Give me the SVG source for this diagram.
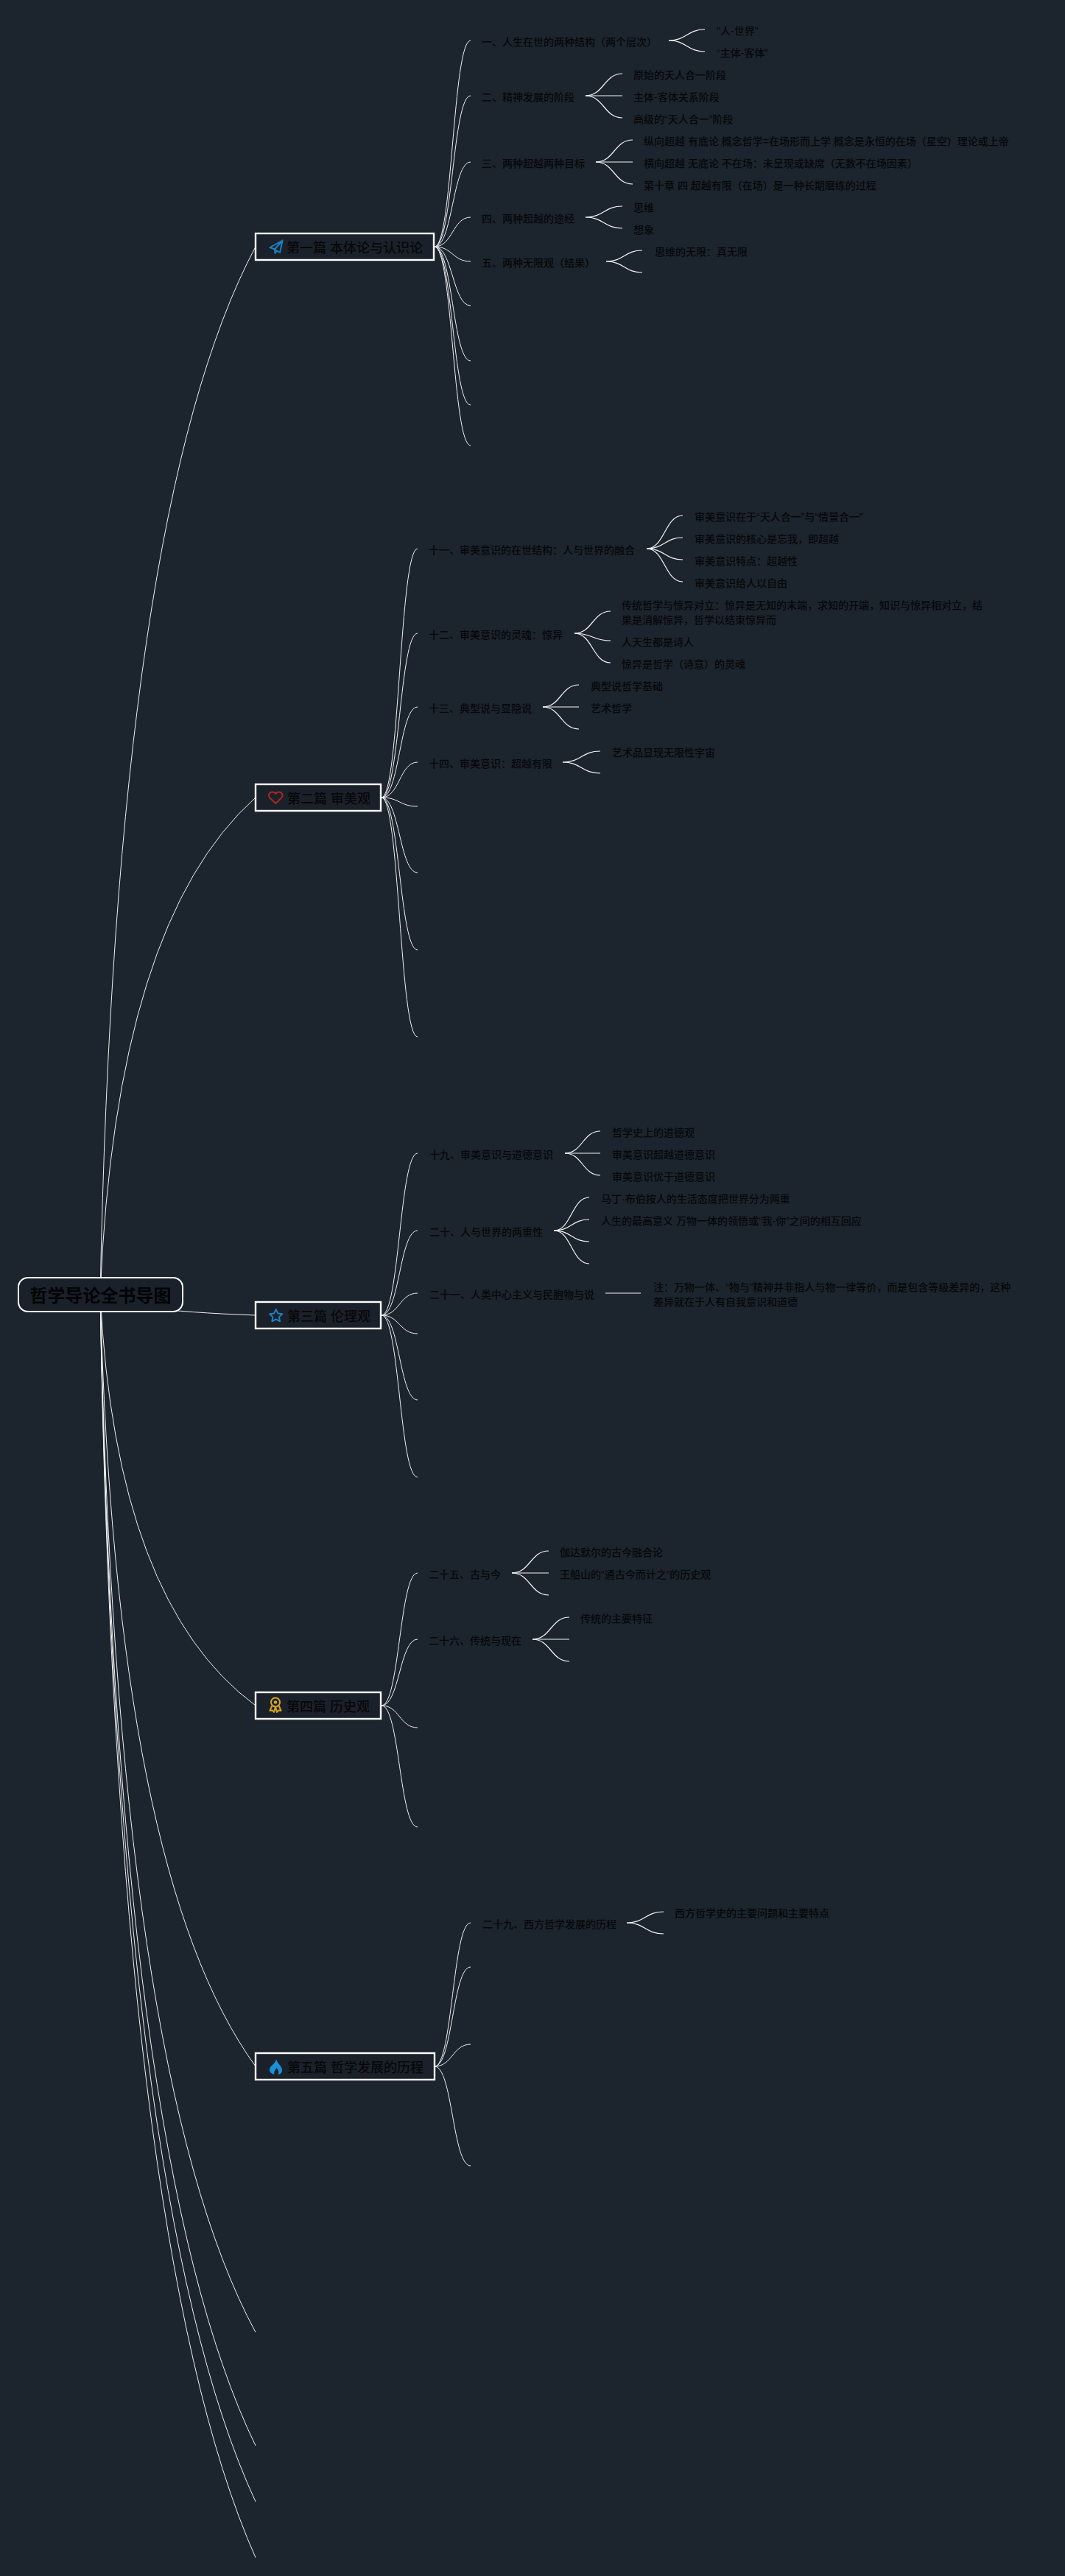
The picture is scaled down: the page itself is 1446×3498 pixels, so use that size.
<svg xmlns="http://www.w3.org/2000/svg" width="1446" height="3498" viewBox="0 0 1446 3498">
<style>
.l0{fill:none;stroke:#f0f1f2;stroke-width:1}
.l1{fill:none;stroke:#f0f1f2;stroke-width:1}
.l2{fill:none;stroke:#f4f5f6;stroke-width:1.2}
text{font-family:"Liberation Sans","Noto Sans CJK SC",sans-serif;fill:#07080a;font-weight:500}
.root rect{fill:#1a212a;stroke:#fff;stroke-width:2}
.root text{font-size:24px;font-weight:700;fill:#030405;text-anchor:middle}
.main rect{fill:#1a212a;stroke:#fff;stroke-width:2.4}
.main text{font-size:18px}
.t text{font-size:14px}
.ico{fill:none;stroke-width:2;stroke-linejoin:round;stroke-linecap:round}
</style>
<rect width="1446" height="3498" fill="#1c242d"/>
<g id="connectors">
<g id="root-edges">
<path class="l0" d="M136 1758Q157 691 347 335"/>
<path class="l0" d="M136 1758Q157 1252 347 1083"/>
<path class="l0" d="M136 1758Q157 1779 347 1786"/>
<path class="l0" d="M136 1758Q157 2176 347 2316"/>
<path class="l0" d="M136 1758Q157 2544 347 2806"/>
<path class="l0" d="M136 1758Q157 2815 347 3167"/>
<path class="l0" d="M136 1758Q157 2930 347 3321"/>
<path class="l0" d="M136 1758Q157 2988 347 3397"/>
<path class="l0" d="M136 1758Q157 3045 347 3473"/>
</g>
<g id="edges-1">
<path class="l1" d="M590 335C614.500 335 614.500 55 639 55"/>
<path class="l1" d="M590 335C614.500 335 614.500 130 639 130"/>
<path class="l1" d="M590 335C614.500 335 614.500 220 639 220"/>
<path class="l1" d="M590 335C614.500 335 614.500 295 639 295"/>
<path class="l1" d="M590 335C614.500 335 614.500 355 639 355"/>
<path class="l1" d="M590 335C614.500 335 614.500 415 639 415"/>
<path class="l1" d="M590 335C614.500 335 614.500 490 639 490"/>
<path class="l1" d="M590 335C614.500 335 614.500 550 639 550"/>
<path class="l1" d="M590 335C614.500 335 614.500 605 639 605"/>
<path class="l2" d="M908 55C932.500 55 932.500 40 957 40"/>
<path class="l2" d="M908 55C932.500 55 932.500 70 957 70"/>
<path class="l2" d="M795 130C820 130 820 100 845 100"/>
<path class="l2" d="M795 130H845"/>
<path class="l2" d="M795 130C820 130 820 160 845 160"/>
<path class="l2" d="M809 220C834 220 834 190 859 190"/>
<path class="l2" d="M809 220H859"/>
<path class="l2" d="M809 220C834 220 834 250 859 250"/>
<path class="l2" d="M795 295C820 295 820 280 845 280"/>
<path class="l2" d="M795 295C820 295 820 310 845 310"/>
<path class="l2" d="M823 355C847.500 355 847.500 340 872 340"/>
<path class="l2" d="M823 355C847.500 355 847.500 370 872 370"/>
</g>
<g id="edges-2">
<path class="l1" d="M518 1083C542.500 1083 542.500 745 567 745"/>
<path class="l1" d="M518 1083C542.500 1083 542.500 860 567 860"/>
<path class="l1" d="M518 1083C542.500 1083 542.500 960 567 960"/>
<path class="l1" d="M518 1083C542.500 1083 542.500 1035 567 1035"/>
<path class="l1" d="M518 1083C542.500 1083 542.500 1095 567 1095"/>
<path class="l1" d="M518 1083C542.500 1083 542.500 1185 567 1185"/>
<path class="l1" d="M518 1083C542.500 1083 542.500 1290 567 1290"/>
<path class="l1" d="M518 1083C542.500 1083 542.500 1408 567 1408"/>
<path class="l2" d="M878 745C902.500 745 902.500 700 927 700"/>
<path class="l2" d="M878 745C902.500 745 902.500 730 927 730"/>
<path class="l2" d="M878 745C902.500 745 902.500 760 927 760"/>
<path class="l2" d="M878 745C902.500 745 902.500 790 927 790"/>
<path class="l2" d="M780 860C804.500 860 804.500 830 829 830"/>
<path class="l2" d="M780 860C804.500 860 804.500 870 829 870"/>
<path class="l2" d="M780 860C804.500 860 804.500 900 829 900"/>
<path class="l2" d="M737 960C761.500 960 761.500 930 786 930"/>
<path class="l2" d="M737 960H786"/>
<path class="l2" d="M737 960C761.500 960 761.500 990 786 990"/>
<path class="l2" d="M764 1035C789.500 1035 789.500 1020 815 1020"/>
<path class="l2" d="M764 1035C789.500 1035 789.500 1050 815 1050"/>
</g>
<g id="edges-3">
<path class="l1" d="M518 1786C542.500 1786 542.500 1566 567 1566"/>
<path class="l1" d="M518 1786C542.500 1786 542.500 1671 567 1671"/>
<path class="l1" d="M518 1786C542.500 1786 542.500 1756 567 1756"/>
<path class="l1" d="M518 1786C542.500 1786 542.500 1811 567 1811"/>
<path class="l1" d="M518 1786C542.500 1786 542.500 1901 567 1901"/>
<path class="l1" d="M518 1786C542.500 1786 542.500 2006 567 2006"/>
<path class="l2" d="M767 1566C791 1566 791 1536 815 1536"/>
<path class="l2" d="M767 1566H815"/>
<path class="l2" d="M767 1566C791 1566 791 1596 815 1596"/>
<path class="l2" d="M752 1671C776 1671 776 1626 800 1626"/>
<path class="l2" d="M752 1671C776 1671 776 1656 800 1656"/>
<path class="l2" d="M752 1671C776 1671 776 1686 800 1686"/>
<path class="l2" d="M752 1671C776 1671 776 1716 800 1716"/>
<path class="l2" d="M822 1756H870"/>
</g>
<g id="edges-4">
<path class="l1" d="M518 2316C542.500 2316 542.500 2136 567 2136"/>
<path class="l1" d="M518 2316C542.500 2316 542.500 2226 567 2226"/>
<path class="l1" d="M518 2316C542.500 2316 542.500 2346 567 2346"/>
<path class="l1" d="M518 2316C542.500 2316 542.500 2481 567 2481"/>
<path class="l2" d="M695 2136C720 2136 720 2106 745 2106"/>
<path class="l2" d="M695 2136H745"/>
<path class="l2" d="M695 2136C720 2136 720 2166 745 2166"/>
<path class="l2" d="M723 2226C748 2226 748 2196 773 2196"/>
<path class="l2" d="M723 2226H773"/>
<path class="l2" d="M723 2226C748 2226 748 2256 773 2256"/>
</g>
<g id="edges-5">
<path class="l1" d="M590 2806C614.500 2806 614.500 2611 639 2611"/>
<path class="l1" d="M590 2806C614.500 2806 614.500 2671 639 2671"/>
<path class="l1" d="M590 2806C614.500 2806 614.500 2776 639 2776"/>
<path class="l1" d="M590 2806C614.500 2806 614.500 2941 639 2941"/>
<path class="l2" d="M851 2611C876 2611 876 2596 901 2596"/>
<path class="l2" d="M851 2611C876 2611 876 2626 901 2626"/>
</g>
</g>
<g id="root" class="root"><rect x="25" y="1735" width="223" height="46" rx="13"/><text x="136.500" y="1768">哲学导论全书导图</text></g>
<g id="n1" class="main"><rect x="347" y="317" width="242" height="36"/>
<path class="ico" stroke="#1f7fbf" d="M383.500 326.500L366.500 336L373 338.500L380 343ZM383.500 326.500L373 338.500L373.500 344L376 340.500"/>
<text x="389" y="343">第一篇 本体论与认识论</text></g>
<g id="n2" class="main"><rect x="347" y="1065" width="170" height="36"/>
<path class="ico" stroke="#a52a1f" d="M374.300 1091L366.500 1083.500C363 1079.500 366 1075.500 370 1075.500C372 1075.500 373.500 1076.500 374.300 1078C375 1076.500 376.500 1075.500 378.500 1075.500C382.500 1075.500 385.500 1079.500 382 1083.500Z"/>
<text x="390" y="1091">第二篇 审美观</text></g>
<g id="n3" class="main"><rect x="347" y="1768" width="170" height="36"/>
<path class="ico" stroke="#1f7fbf" d="M374.700 1778L377.300 1783.400L383.300 1784.200L378.900 1788.400L380 1794.300L374.700 1791.400L369.400 1794.300L370.500 1788.400L366.100 1784.200L372.100 1783.400Z"/>
<text x="390" y="1794">第三篇 伦理观</text></g>
<g id="n4" class="main"><rect x="347" y="2298" width="170" height="36"/>
<circle class="ico" stroke="#d9a520" cx="374" cy="2311.500" r="6"/>
<circle cx="374" cy="2311.500" r="2.300" fill="#d9a520"/>
<path class="ico" stroke="#d9a520" d="M369 2317L366.500 2323L370 2322.500L372 2325L373.500 2319M379 2317L381.500 2323L378 2322.500L376 2325L374.500 2319"/>
<text x="389" y="2324">第四篇 历史观</text></g>
<g id="n5" class="main"><rect x="347" y="2788" width="243" height="36"/>
<path fill="#1a8fd8" d="M375 2796C376 2802 383 2805 383 2811C383 2815 380 2817 377.500 2817C379 2814 378.500 2811 375.500 2808C374 2811 371.500 2813 372.500 2817C369 2816 366 2814 366 2810C366 2805 374 2803 375 2796Z"/>
<text x="390" y="2814">第五篇 哲学发展的历程</text></g>
<g class="t" id="topics">
<g id="t1-1"><text x="654" y="62">一、人生在世的两种结构（两个层次）</text></g>
<g id="t1-1-1"><text x="973" y="47">"人-世界"</text></g>
<g id="t1-1-2"><text x="973" y="77">“主体-客体”</text></g>
<g id="t1-2"><text x="654" y="137">二、精神发展的阶段</text></g>
<g id="t1-2-1"><text x="860" y="107">原始的天人合一阶段</text></g>
<g id="t1-2-2"><text x="860" y="137">主体-客体关系阶段</text></g>
<g id="t1-2-3"><text x="860" y="167">高级的“天人合一”阶段</text></g>
<g id="t1-3"><text x="654" y="227">三、两种超越两种目标</text></g>
<g id="t1-3-1"><text x="874" y="197">纵向超越 有底论 概念哲学=在场形而上学 概念是永恒的在场（星空）理论或上帝</text></g>
<g id="t1-3-2"><text x="874" y="227">横向超越 无底论 不在场：未呈现或缺席（无数不在场因素）</text></g>
<g id="t1-3-3"><text x="874" y="257">第十章 四 超越有限（在场）是一种长期磨练的过程</text></g>
<g id="t1-4"><text x="654" y="302">四、两种超越的途经</text></g>
<g id="t1-4-1"><text x="860" y="287">思维</text></g>
<g id="t1-4-2"><text x="860" y="317">想象</text></g>
<g id="t1-5"><text x="654" y="362">五、两种无限观（结果）</text></g>
<g id="t1-5-1"><text x="889" y="347">思维的无限：真无限</text></g>
<g id="t2-1"><text x="582" y="752">十一、审美意识的在世结构：人与世界的融合</text></g>
<g id="t2-1-1"><text x="943" y="707">审美意识在于“天人合一”与“情景合一”</text></g>
<g id="t2-1-2"><text x="943" y="737">审美意识的核心是忘我，即超越</text></g>
<g id="t2-1-3"><text x="943" y="767">审美意识特点：超越性</text></g>
<g id="t2-1-4"><text x="943" y="797">审美意识给人以自由</text></g>
<g id="t2-2"><text x="582" y="867">十二、审美意识的灵魂：惊异</text></g>
<g id="t2-2-1"><text x="844" y="827">传统哲学与惊异对立：惊异是无知的末端，求知的开端，知识与惊异相对立，结</text><text x="844" y="847">果是消解惊异，哲学以结束惊异而</text></g>
<g id="t2-2-2"><text x="844" y="877">人天生都是诗人</text></g>
<g id="t2-2-3"><text x="844" y="907">惊异是哲学（诗意）的灵魂</text></g>
<g id="t2-3"><text x="582" y="967">十三、典型说与显隐说</text></g>
<g id="t2-3-1"><text x="802" y="937">典型说哲学基础</text></g>
<g id="t2-3-2"><text x="802" y="967">艺术哲学</text></g>
<g id="t2-4"><text x="582" y="1042">十四、审美意识：超越有限</text></g>
<g id="t2-4-1"><text x="831" y="1027">艺术品显现无限性宇宙</text></g>
<g id="t3-1"><text x="583" y="1573">十九、审美意识与道德意识</text></g>
<g id="t3-1-1"><text x="831" y="1543">哲学史上的道德观</text></g>
<g id="t3-1-2"><text x="831" y="1573">审美意识超越道德意识</text></g>
<g id="t3-1-3"><text x="831" y="1603">审美意识优于道德意识</text></g>
<g id="t3-2"><text x="583" y="1678">二十、人与世界的两重性</text></g>
<g id="t3-2-1"><text x="816" y="1633">马丁·布伯按人的生活态度把世界分为两重</text></g>
<g id="t3-2-2"><text x="816" y="1663">人生的最高意义 万物一体的领悟或“我-你”之间的相互回应</text></g>
<g id="t3-3"><text x="583" y="1763">二十一、人类中心主义与民胞物与说</text></g>
<g id="t3-3-1"><text x="887" y="1753">注：万物一体、“物与”精神并非指人与物一律等价，而是包含等级差异的，这种</text><text x="887" y="1773">差异就在于人有自我意识和道德</text></g>
<g id="t4-1"><text x="582" y="2143">二十五、古与今</text></g>
<g id="t4-1-1"><text x="760" y="2113">伽达默尔的古今融合论</text></g>
<g id="t4-1-2"><text x="760" y="2143">王船山的“通古今而计之”的历史观</text></g>
<g id="t4-2"><text x="582" y="2233">二十六、传统与现在</text></g>
<g id="t4-2-1"><text x="788" y="2203">传统的主要特征</text></g>
<g id="t5-1"><text x="655" y="2618">二十九、西方哲学发展的历程</text></g>
<g id="t5-1-1"><text x="916" y="2603">西方哲学史的主要问题和主要特点</text></g>
</g>
</svg>
